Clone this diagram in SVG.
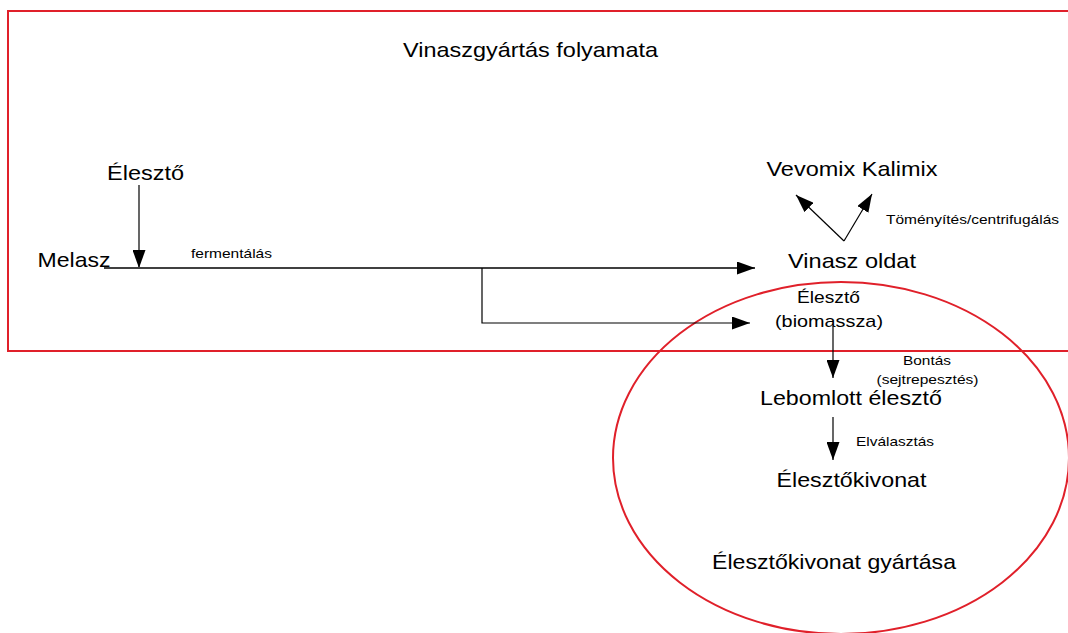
<svg xmlns="http://www.w3.org/2000/svg" width="1068" height="633" viewBox="0 0 1068 633">
<style>
text{font-family:"Liberation Sans",Arial,sans-serif;fill:#000}
.big{font-size:21px}
.mid{font-size:17px}
.sm{font-size:13.5px}
.c{text-anchor:middle}
.ln{stroke:#000;stroke-width:1.2;fill:none}
.red{stroke:#e0202a;stroke-width:2;fill:none}
</style>
<defs>
<marker id="ah" markerWidth="18" markerHeight="13" refX="18" refY="6.5" orient="auto" markerUnits="userSpaceOnUse">
<path d="M0,0 L18,6.5 L0,13 Z" fill="#000"/>
</marker>
</defs>
<rect width="1068" height="633" fill="#fff"/>
<g id="vinasz-frame"><rect class="red" x="8" y="11" width="1080" height="340"/></g>
<g id="elesztokivonat-frame"><ellipse class="red" cx="841" cy="458" rx="228" ry="176"/></g>
<g id="connectors">
<line class="ln" x1="139" y1="185" x2="139" y2="268" marker-end="url(#ah)"/>
<line x1="104" y1="268" x2="755" y2="268" stroke="#404040" stroke-width="2" marker-end="url(#ah)"/>
<polyline class="ln" points="482,268 482,323 750,323" marker-end="url(#ah)"/>
<line class="ln" x1="844" y1="241" x2="796" y2="195" marker-end="url(#ah)"/>
<line class="ln" x1="844" y1="241" x2="872" y2="194" marker-end="url(#ah)"/>
<line class="ln" x1="833" y1="326" x2="833" y2="378" marker-end="url(#ah)"/>
<line class="ln" x1="833" y1="417" x2="833" y2="460" marker-end="url(#ah)"/>
<text class="sm" x="191" y="258" textLength="81" lengthAdjust="spacingAndGlyphs">fermentálás</text>
<text class="sm" x="886" y="224" textLength="173" lengthAdjust="spacingAndGlyphs">Töményítés/centrifugálás</text>
<text class="sm c" x="927" y="365" textLength="48" lengthAdjust="spacingAndGlyphs">Bontás</text>
<text class="sm c" x="927.5" y="384" textLength="102" lengthAdjust="spacingAndGlyphs">(sejtrepesztés)</text>
<text class="sm" x="856" y="446" textLength="78" lengthAdjust="spacingAndGlyphs">Elválasztás</text>
</g>
<g id="title"><text class="big c" x="530.5" y="57" textLength="255" lengthAdjust="spacingAndGlyphs">Vinaszgyártás folyamata</text></g>
<g id="eleszto"><text class="big c" x="145.5" y="180" textLength="77" lengthAdjust="spacingAndGlyphs">Élesztő</text></g>
<g id="melasz"><text class="big" x="37.5" y="267" textLength="73" lengthAdjust="spacingAndGlyphs">Melasz</text></g>
<g id="vevomix"><text class="big c" x="852" y="176" textLength="171" lengthAdjust="spacingAndGlyphs">Vevomix Kalimix</text></g>
<g id="vinasz-oldat"><text class="big c" x="852" y="268" textLength="128" lengthAdjust="spacingAndGlyphs">Vinasz oldat</text></g>
<g id="eleszto-biomassza"><text class="mid c" x="828.5" y="303" textLength="63" lengthAdjust="spacingAndGlyphs">Élesztő</text><text class="mid c" x="829" y="326.5" textLength="108" lengthAdjust="spacingAndGlyphs">(biomassza)</text></g>
<g id="lebomlott"><text class="big c" x="851" y="405" textLength="182" lengthAdjust="spacingAndGlyphs">Lebomlott élesztő</text></g>
<g id="kivonat"><text class="big c" x="851.5" y="486.5" textLength="150" lengthAdjust="spacingAndGlyphs">Élesztőkivonat</text></g>
<g id="kivonat-gyartas"><text class="big c" x="834" y="568.5" textLength="244" lengthAdjust="spacingAndGlyphs">Élesztőkivonat gyártása</text></g>
</svg>
